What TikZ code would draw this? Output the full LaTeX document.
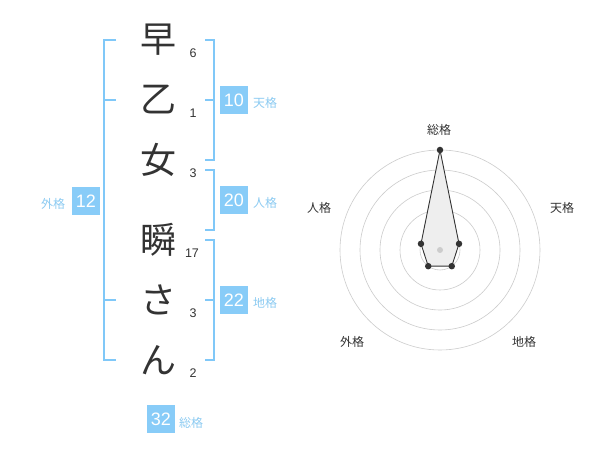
\documentclass[tikz,border=0pt]{standalone}
\usepackage{fontspec}
\setmainfont{Liberation Sans}
\newfontfamily\jp{Noto Sans CJK JP}
\definecolor{ink}{HTML}{333333}
\definecolor{brk}{HTML}{80C8F8}
\definecolor{boxc}{HTML}{88CCF8}
\definecolor{lbl}{HTML}{8CCBF2}
\definecolor{ringc}{HTML}{CCCCCC}
\definecolor{fillp}{HTML}{EEEEEE}
\begin{document}
\begin{tikzpicture}[x=1pt,y=-1pt,
 bigch/.style={font=\jp\fontsize{36}{36}\selectfont, text=ink, inner sep=0},
 strk/.style={font=\fontsize{12.5}{12.5}\selectfont, text=ink, inner sep=0},
 valbox/.style={fill=boxc, text=white, font=\fontsize{18}{18}\selectfont, minimum width=28pt, minimum height=28pt, inner sep=0},
 kaku/.style={font=\jp\fontsize{12}{12}\selectfont, text=lbl, inner sep=0, anchor=west},
 bracket/.style={draw=brk, line width=2pt},
 ringline/.style={draw=ringc, line width=0.6pt},
 axlbl/.style={font=\jp\fontsize{12}{12}\selectfont, text=ink, inner sep=0},
 vdot/.style={circle, fill=ink, inner sep=0, minimum size=6.5pt},
]
\useasboundingbox[fill=white] (0,0) rectangle (600,470);

% characters
\node[bigch] (c1) at (158,40) {早};
\node[bigch] (c2) at (158,100) {乙};
\node[bigch] (c3) at (158,160) {女};
\node[bigch] (c4) at (158,240) {瞬};
\node[bigch] (c5) at (158,300) {さ};
\node[bigch] (c6) at (158,360) {ん};

% stroke counts
\node[strk] (s1) at (193,53) {6};
\node[strk] (s2) at (193,113) {1};
\node[strk] (s3) at (193,173) {3};
\node[strk] (s4) at (192,253) {17};
\node[strk] (s5) at (193,313) {3};
\node[strk] (s6) at (193,373) {2};

% brackets
\draw[bracket] (116,40) -- (104,40) -- (104,360) -- (116,360);
\draw[bracket] (104,100) -- (116,100);
\draw[bracket] (104,300) -- (116,300);
\draw[bracket] (205,40) -- (214,40) -- (214,160) -- (205,160);
\draw[bracket] (205,100) -- (214,100);
\draw[bracket] (205,170) -- (214,170) -- (214,230) -- (205,230);
\draw[bracket] (205,240) -- (214,240) -- (214,360) -- (205,360);
\draw[bracket] (205,300) -- (214,300);

% value boxes
\node[valbox] (b10) at (234,100) {10};
\node[kaku] (l10) at (253,103) {天格};
\node[valbox] (b20) at (234,200) {20};
\node[kaku] (l20) at (253,203) {人格};
\node[valbox] (b22) at (234,300) {22};
\node[kaku] (l22) at (253,303) {地格};
\node[valbox] (b12) at (86,201) {12};
\node[kaku] (l12) at (41,204) {外格};
\node[valbox] (b32) at (161,419) {32};
\node[kaku] (l32) at (179,423) {総格};

% radar
\begin{scope}[shift={(440,250)}]
\foreach \r in {20,40,60,80,100} \draw[ringline] (0,0) circle[radius=\r];
\coordinate (p1) at (-90:100);
\coordinate (p2) at (-18:20);
\coordinate (p3) at (54:20);
\coordinate (p4) at (126:20);
\coordinate (p5) at (198:20);
\filldraw[fill=fillp, draw=ink, line width=0.9pt] (p1) -- (p2) -- (p3) -- (p4) -- (p5) -- cycle;
\node[circle, fill=ringc, inner sep=0, minimum size=6pt] (ctr) at (0,0) {};
\foreach \p in {p1,p2,p3,p4,p5} \node[vdot] at (\p) {};
\end{scope}
\node[axlbl] (a1) at (439,130) {総格};
\node[axlbl] (a2) at (562,208) {天格};
\node[axlbl] (a3) at (319,208) {人格};
\node[axlbl] (a4) at (352,342) {外格};
\node[axlbl] (a5) at (524,342) {地格};
\end{tikzpicture}
\end{document}
